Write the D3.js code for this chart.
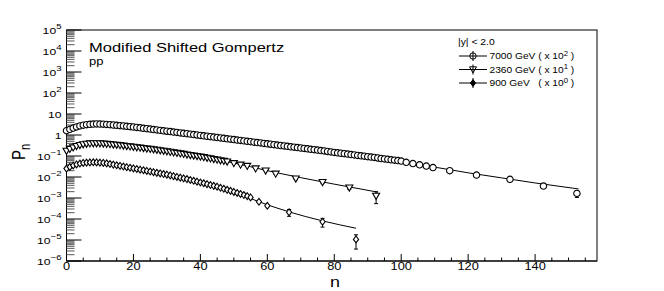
<!DOCTYPE html>
<html><head><meta charset="utf-8">
<script src="https://cdn.jsdelivr.net/npm/d3@7"></script>
<style>body{margin:0;background:#fff} text{font-family:"Liberation Sans",Arial,Helvetica,sans-serif;fill:#000} .pre{white-space:pre}</style>
</head><body>
<svg id="c" width="664" height="291"></svg>
<script>
// ---- data (plotted values, already scaled as in legend) ----
const xTicks = [0, 20, 40, 60, 80, 100, 120, 140];
const yTickExps = [-6, -5, -4, -3, -2, -1, 0, 1, 2, 3, 4, 5];

// 7000 GeV (x 10^2)
const n7000 = d3.range(0, 101).concat([101.5, 103.5, 105.5, 107.5, 109.5, 114.5, 122.5, 132.5, 142.5, 152.5]);
const p7000 = [1.60,1.86,2.14,2.43,2.69,2.92,3.09,3.24,3.31,3.35,
  3.33,3.27,3.20,3.09,2.99,2.88,2.79,2.69,2.59,2.49,
  2.40,2.29,2.19,2.09,2.00,1.91,1.82,1.74,1.66,1.58,
  1.51,1.45,1.38,1.32,1.26,1.20,1.15,1.10,1.05,1.00,
  0.955,0.912,0.871,0.832,0.794,0.759,0.724,0.692,0.661,0.631,
  0.603,0.575,0.550,0.525,0.501,0.479,0.457,0.437,0.417,0.398,
  0.380,0.363,0.347,0.331,0.316,0.302,0.288,0.275,0.263,0.251,
  0.240,0.229,0.219,0.209,0.200,0.191,0.182,0.174,0.164,0.156,
  0.148,0.141,0.135,0.129,0.123,0.117,0.112,0.107,0.102,0.0977,
  0.0933,0.0891,0.0851,0.0804,0.0759,0.0724,0.0692,0.0661,0.0631,0.0603,
  0.0575,
  0.0501,0.0437,0.0380,0.0331,0.0282,0.0200,0.0124,0.00776,0.00372,0.00166];
const e7000tail = [0,0,0,0,0,0.0008,0.0006,0.0005,0.0005,0.0006];
const f7000n = [0, 4, 8, 10, 14, 20, 40, 60, 80, 100, 110, 120, 130, 140, 153];
const f7000p = [1.55, 2.7, 3.3, 3.33, 3.0, 2.4, 0.955, 0.38, 0.148, 0.056, 0.0295, 0.0158, 0.0091, 0.0052, 0.0027];

// 2360 GeV (x 10^1)
const n2360 = d3.range(0, 49).concat([50, 52, 54, 56.5, 59.5, 62.5, 68.5, 76.5, 84.5, 92.5]);
const p2360 = [0.174,0.214,0.251,0.292,0.327,0.355,0.376,0.389,0.398,0.398,
  0.394,0.385,0.372,0.359,0.347,0.335,0.324,0.309,0.295,0.282,
  0.269,0.257,0.245,0.234,0.224,0.214,0.204,0.195,0.184,0.174,
  0.164,0.155,0.146,0.138,0.130,0.123,0.116,0.110,0.104,0.0977,
  0.0923,0.0871,0.0813,0.0759,0.0708,0.0661,0.0617,0.0575,0.0537,
  0.0447,0.0380,0.0331,0.0251,0.0200,0.0141,0.00832,0.00562,0.00309,0.00126];
const e2360tail = [0,0,0,0,0,0.001,0.0009,0.0008,0.0005,0.00072];
const f2360n = [0, 4, 8, 10, 20, 30, 40, 50, 60, 70, 80, 93];
const f2360p = [0.17, 0.33, 0.398, 0.394, 0.269, 0.164, 0.0923, 0.0468, 0.0200, 0.0093, 0.00457, 0.0019];

// 900 GeV (x 10^0)
const n900 = d3.range(0, 56).concat([57.5, 60, 66.5, 76.5, 86.5]);
const p900 = [0.0251,0.0302,0.0355,0.0398,0.0437,0.0468,0.0484,0.0495,0.0501,0.0495,
  0.0484,0.0468,0.0447,0.0417,0.0389,0.0363,0.0339,0.0316,0.0295,0.0275,
  0.0257,0.0240,0.0224,0.0209,0.0195,0.0182,0.0170,0.0158,0.0148,0.0138,
  0.0129,0.0119,0.0110,0.0101,0.00933,0.00861,0.00794,0.00724,0.00661,0.00603,
  0.00550,0.00501,0.00457,0.00417,0.00380,0.00347,0.00309,0.00275,0.00245,0.00219,
  0.00195,0.00174,0.00155,0.00138,0.00123,0.00107,
  0.000661,0.000427,0.000209,0.0000741,0.0000107];
const e900tail = [0.00005,0.00004,0.000075,0.000033,0.000007];
const f900n = [0, 4, 8, 10, 20, 30, 40, 50, 57.5, 66.5, 76.5, 86.5];
const f900p = [0.025, 0.0437, 0.0501, 0.0484, 0.0257, 0.0129, 0.0055, 0.00195, 0.00066, 0.000219, 0.0000813, 0.0000363];

// ---- drawing ----
const svg = d3.select("#c");
const L = 66.5, R = 597, T = 30, B = 261;
const SX = 1.28; // horizontal stretch of text in the reference
const x = d3.scaleLinear().domain([0, 158.5]).range([L, R]);
const y = d3.scaleLog().domain([1e-6, 1e5]).range([B, T]);

function stext(parent, px, py, size, anchor, sx) {
  return parent.append("text")
    .attr("transform", `translate(${px},${py}) scale(${sx || SX},1)`)
    .attr("text-anchor", anchor || "start").attr("font-size", size);
}

// frame
svg.append("rect").attr("x", L).attr("y", T).attr("width", R - L).attr("height", B - T)
  .attr("fill", "none").attr("stroke", "#000").attr("stroke-width", 1);

// x axis
const gx = svg.append("g").attr("transform", `translate(0,${B})`);
const xMinor = d3.range(0, 159, 5);
gx.selectAll("line.minor").data(xMinor).enter().append("line")
  .attr("x1", d => x(d)).attr("x2", d => x(d))
  .attr("y1", 0).attr("y2", d => (d % 20 === 0 ? -7 : -3.5))
  .attr("stroke", "#000").attr("stroke-width", 1);
gx.append("line").attr("x1", L).attr("x2", R).attr("stroke", "#000");
xTicks.forEach(d => stext(svg, x(d), 270, 10, "middle").text(d));

// y axis ticks
const gy = svg.append("g");
yTickExps.forEach(e => {
  for (let m = 1; m <= 9; m++) {
    const v = m * Math.pow(10, e);
    if (v > 1e5 * 1.0001) break;
    const yy = y(v);
    gy.append("line").attr("x1", L).attr("x2", L + (m === 1 ? 15 : 8))
      .attr("y1", yy).attr("y2", yy).attr("stroke", m === 1 ? "#000" : "#555").attr("stroke-width", 1);
  }
});
yTickExps.forEach(e => {
  const t = stext(gy, 61.5, y(Math.pow(10, e)) + 3.5, 9.5, "end");
  if (e === 0) t.text("1");
  else if (e === 1) t.text("10");
  else {
    t.append("tspan").text("10");
    t.append("tspan").attr("dy", -4.5).attr("font-size", 7.5).text(e < 0 ? "\u2212" + (-e) : e);
  }
});

// axis titles
const yt = svg.append("text").attr("transform", "translate(25,152) rotate(-90) scale(1,1.25)")
  .attr("text-anchor", "middle").attr("font-size", 15);
yt.append("tspan").text("P");
yt.append("tspan").attr("dy", 4).attr("font-size", 11).text("n");
stext(svg, 335, 287, 14, "middle").text("n");

// labels
stext(svg, 89, 51.5, 12.5, "start", 1.32).text("Modified Shifted Gompertz");
stext(svg, 89, 64.5, 10, "start", 1.3).text("pp");

// fit lines
const lineGen = d3.line().x(d => x(d[0])).y(d => y(d[1])).curve(d3.curveMonotoneX);
[[f7000n, f7000p], [f2360n, f2360p], [f900n, f900p]].forEach(([ns, ps]) => {
  svg.append("path").datum(ns.map((v, i) => [v, ps[i]])).attr("d", lineGen)
    .attr("fill", "none").attr("stroke", "#000").attr("stroke-width", 1);
});

// error bars
function errBars(ns, ps, tail) {
  const off = ns.length - tail.length;
  tail.forEach((e, i) => {
    if (!e) return;
    const n = ns[off + i], p = ps[off + i];
    const lo = Math.max(p - e, 1e-7);
    svg.append("line").attr("x1", x(n)).attr("x2", x(n)).attr("y1", y(p + e)).attr("y2", y(lo))
      .attr("stroke", "#000");
    [p + e, lo].forEach(v => svg.append("line").attr("x1", x(n) - 2).attr("x2", x(n) + 2)
      .attr("y1", y(v)).attr("y2", y(v)).attr("stroke", "#000"));
  });
}
errBars(n7000, p7000, e7000tail);
errBars(n2360, p2360, e2360tail);
errBars(n900, p900, e900tail);

// markers
const sym = {
  circle: d3.symbol().type(d3.symbolCircle).size(32),
  tri: "M-3.5,-2.7L3.5,-2.7L0,3.4Z",
  diamond: "M0,-3.4L2.6,0L0,3.4L-2.6,0Z"
};
function markers(ns, ps, type) {
  svg.append("g").selectAll("path").data(ns).enter().append("path")
    .attr("transform", (d, i) => `translate(${x(d)},${y(ps[i])})`)
    .attr("d", type === "circle" ? sym.circle() : sym[type])
    .attr("fill", "#fff").attr("stroke", "#000").attr("stroke-width", 1.1);
}
markers(n7000, p7000, "circle");
markers(n2360, p2360, "tri");
markers(n900, p900, "diamond");

// legend
const lg = svg.append("g");
stext(lg, 458, 45, 8.5, "start", 1.22).text("|y| < 2.0");
const entries = [["7000 GeV ( x 10", "2", " )", "circle"], ["2360 GeV ( x 10", "1", " )", "tri"], ["900 GeV   ( x 10", "0", " )", "diamond"]];
entries.forEach((en, i) => {
  const cy = 56 + i * 13.5, cx = 473;
  lg.append("line").attr("x1", 459).attr("x2", 487).attr("y1", cy).attr("y2", cy).attr("stroke", "#000");
  lg.append("line").attr("x1", cx).attr("x2", cx).attr("y1", cy - 5).attr("y2", cy + 5).attr("stroke", "#000");
  lg.append("path").attr("transform", `translate(${cx},${cy})`)
    .attr("d", en[3] === "circle" ? sym.circle() : sym[en[3]])
    .attr("fill", en[3] === "diamond" ? "#000" : "none").attr("stroke", "#000");
  const t = stext(lg, 489.5, cy + 3.2, 8.5, "start", 1.2).attr("class", "pre");
  t.append("tspan").text(en[0]);
  t.append("tspan").attr("dy", -3.5).attr("font-size", 6.5).text(en[1]);
  t.append("tspan").attr("dy", 3.5).text(en[2]);
});
</script>
</body></html>
